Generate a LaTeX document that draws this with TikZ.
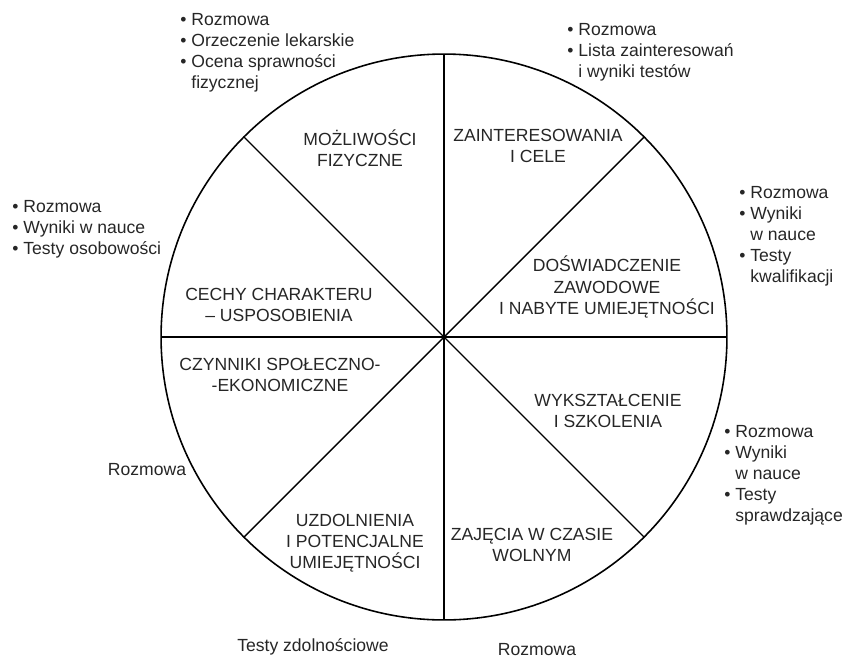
\documentclass[tikz,border=0pt]{standalone}
\usepackage{fontspec}
\setmainfont{Liberation Sans}

\newcommand{\punkt}{\textbullet\ }
\newcommand{\wciecie}{\phantom{\textbullet\ }}

\begin{document}
\begin{tikzpicture}[x=0.02cm, y=-0.02cm,
    sektor/.style={align=center, inner sep=0pt, font=\fontsize{10}{12}\selectfont, text=black!85},
    uwaga/.style={align=left, anchor=north west, inner sep=0pt, font=\fontsize{10}{12}\selectfont, text=black!85}]
  \useasboundingbox (0,0) rectangle (848,659);

  % kolo i podzial na osiem wycinkow
  \coordinate (c) at (444,337);
  \draw[line width=0.9pt] (c) circle [radius=5.66cm];
  \foreach \a in {0,45,...,315}
    \draw[line width=0.8pt] (c) -- ++(\a:5.66cm);

  % nazwy wycinkow
  \node[sektor] (fiz) at (360,148) {MOŻLIWOŚCI\\FIZYCZNE};
  \node[sektor] (zai) at (538,146) {ZAINTERESOWANIA\\I CELE};
  \node[sektor] (cech) at (279,305) {CECHY CHARAKTERU\\– USPOSOBIENIA};
  \node[sektor] (dosw) at (607,287) {DOŚWIADCZENIE\\ZAWODOWE\\I NABYTE UMIEJĘTNOŚCI};
  \node[sektor] (czyn) at (280,375) {CZYNNIKI SPOŁECZNO-\\-EKONOMICZNE};
  \node[sektor] (wyk) at (608,411) {WYKSZTAŁCENIE\\I SZKOLENIA};
  \node[sektor] (uzd) at (355,543) {UZDOLNIENIA\\I POTENCJALNE\\UMIEJĘTNOŚCI};
  \node[sektor] (woln) at (532,545) {ZAJĘCIA W CZASIE\\WOLNYM};

  % metody oceny
  \node[uwaga] (m-fiz) at (180,13) {\punkt Rozmowa\\\punkt Orzeczenie lekarskie\\\punkt Ocena sprawności\\\wciecie fizycznej};
  \node[uwaga] (m-zai) at (567,23) {\punkt Rozmowa\\\punkt Lista zainteresowań\\\wciecie i wyniki testów};
  \node[uwaga] (m-cech) at (12,200) {\punkt Rozmowa\\\punkt Wyniki w nauce\\\punkt Testy osobowości};
  \node[uwaga] (m-dosw) at (739,186) {\punkt Rozmowa\\\punkt Wyniki\\\wciecie w nauce\\\punkt Testy\\\wciecie kwalifikacji};
  \node[uwaga] (m-wyk) at (724,425) {\punkt Rozmowa\\\punkt Wyniki\\\wciecie w nauce\\\punkt Testy\\\wciecie sprawdzające};
  \node[sektor] (m-czyn) at (147,470) {Rozmowa};
  \node[sektor] (m-uzd) at (313,647) {Testy zdolnościowe};
  \node[sektor] (m-woln) at (537,650) {Rozmowa};
\end{tikzpicture}
\end{document}
